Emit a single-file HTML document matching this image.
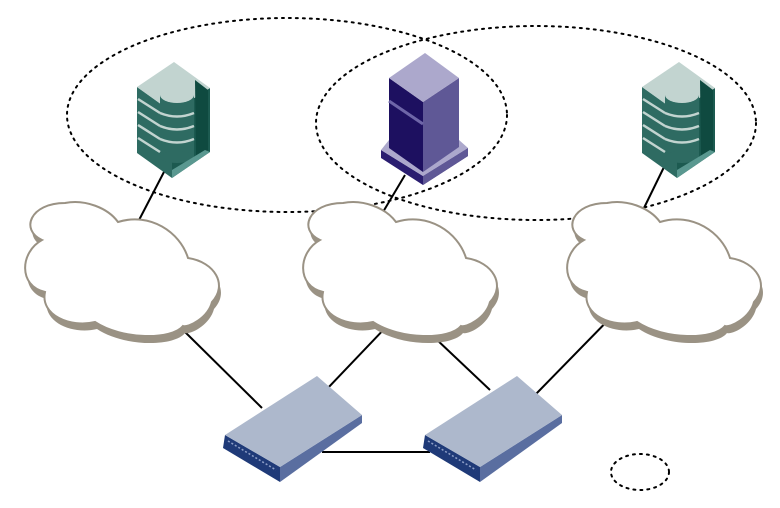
<!DOCTYPE html>
<html><head><meta charset="utf-8"><style>html,body{margin:0;padding:0;background:#fff}svg{display:block}</style></head>
<body>
<svg width="780" height="508" viewBox="0 0 780 508" xmlns="http://www.w3.org/2000/svg">
<defs>
<path id="cl" d="M42,240 C20,230 30,203 65,203 C85,199 108,208 118,222 C150,212 180,232 188,258 C215,262 228,285 212,302 C208,318 188,328 183,326 C172,340 122,340 95,322 C70,328 40,315 45,292 C18,286 20,252 42,240 Z"/>
<g id="cloud">
<use href="#cl" transform="translate(2,7)" fill="#9a9284"/>
<use href="#cl" fill="#fff" stroke="#9a9284" stroke-width="2"/>
</g>
<g id="db">
<polygon points="137,87 172,112 172,178 137,153" fill="#2e6b62"/>
<polygon points="172,112 210,88 210,152 172,178" fill="#1c5a50"/>
<polygon points="174,62 210,88 172,112 137,87" fill="#c2d4d0"/>
<polygon points="195,80 208,90 208,150 196,158" fill="#0f4a40"/>
<rect x="160" y="95" width="34" height="62" fill="#2e6b62"/>
<ellipse cx="177" cy="157" rx="17" ry="6" fill="#2e6b62"/>
<ellipse cx="177" cy="95" rx="17" ry="8" fill="#c2d4d0"/>
<path d="M160,113 Q177,120 194,113 M160,126 Q177,133 194,126 M160,139 Q177,146 194,139" stroke="#c2d4d0" stroke-width="2.5" fill="none"/>
<path d="M138,99 L160,113 M138,112 L160,126 M138,125 L160,139 M138,138 L160,152" stroke="#c2d4d0" stroke-width="2.5"/>
<polygon points="172,170 205,150 210,152 172,178" fill="#5a9890"/>
</g>
<g id="sw">
<polygon points="225,435 280,467 280,482 223,448" fill="#1f3a78"/>
<polygon points="280,467 362,415 362,423 280,482" fill="#5a6ea0"/>
<polygon points="317,376 362,415 280,467 225,435" fill="#adb8cc"/>
<line x1="228" y1="441" x2="276" y2="470" stroke="#8fa0c8" stroke-width="1.5" stroke-dasharray="2,2"/>
</g>
</defs>
<g fill="none" stroke="#000" stroke-width="2" stroke-dasharray="2,5" stroke-linecap="round">
<ellipse cx="287" cy="115" rx="220" ry="97"/>
<ellipse cx="536" cy="123" rx="220" ry="97"/>
<ellipse cx="640" cy="472" rx="29" ry="18"/>
</g>
<g stroke="#000" stroke-width="2">
<line x1="165" y1="170" x2="138" y2="222"/>
<line x1="405" y1="175" x2="383" y2="212"/>
<line x1="665" y1="165" x2="643" y2="210"/>
<line x1="183" y1="330" x2="262" y2="408"/>
<line x1="388" y1="325" x2="326" y2="390"/>
<line x1="435" y1="338" x2="490" y2="390"/>
<line x1="622" y1="306" x2="535" y2="395"/>
<line x1="322" y1="452" x2="430" y2="452"/>
</g>
<use href="#cloud"/>
<use href="#cloud" transform="translate(278,0)"/>
<use href="#cloud" transform="translate(542,0)"/>
<use href="#db"/>
<use href="#db" transform="translate(505,0)"/>
<polygon points="381,150 423,176 468,148 468,156 423,185 381,158" fill="#2a1d70"/>
<polygon points="423,176 468,148 468,156 423,185" fill="#5f5896"/>
<polygon points="389,140 423,162 459,140 468,148 423,176 381,150" fill="#aca8cc"/>
<polygon points="389,78 423,102 423,172 389,148" fill="#1d1060"/>
<polygon points="423,102 459,78 459,147 423,172" fill="#5f5896"/>
<polygon points="425,53 459,78 423,102 389,78" fill="#aca8cc"/>
<line x1="389" y1="101" x2="423" y2="124" stroke="#6e66a8" stroke-width="3"/>
<use href="#sw"/>
<use href="#sw" transform="translate(200,0)"/>
</svg>
</body></html>
